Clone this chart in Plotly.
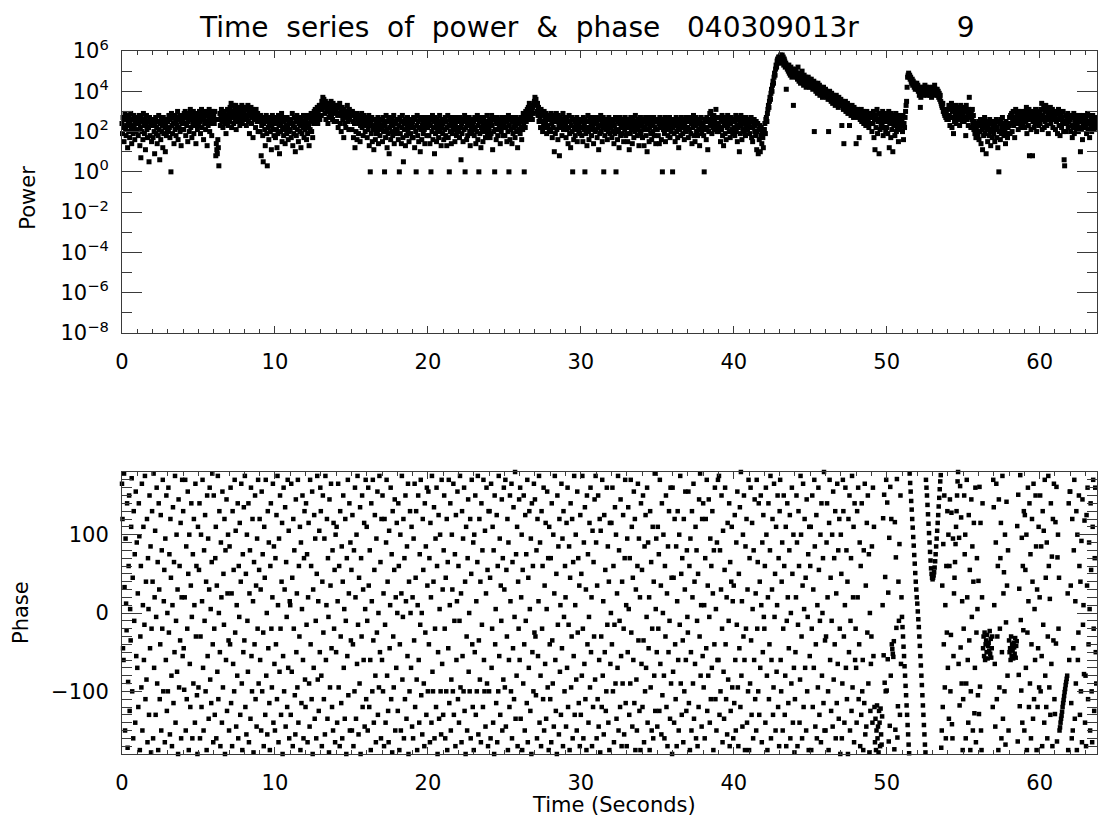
import plotly.graph_objects as go

# ---------------------------------------------------------------
# Data.  One row = one second,
# 30 samples per second.  Power in dB (10*log10 P), phase in degrees.
# ---------------------------------------------------------------
POWER_STEP = 1 / 30
PHASE_STEP = 1 / 30

power_db_00_16 = [
    [24,19,27,22,15,26,29,21,18,23,28,12,25,20,27,17,24,29,22,14,26,21,19,28,23,16,25,27,20,24],
    [21,26,18,24,28,13,22,7,27,20,25,16,29,23,19,26,11,24,28,21,17,25,22,5,27,18,23,26,15,24],
    [23,17,26,20,9,24,27,19,22,14,25,18,28,21,6,24,16,26,20,23,12,27,19,25,22,10,24,18,26,21],
    [25,20,28,22,17,26,0,29,23,19,27,24,14,28,21,25,18,27,23,30,16,26,22,28,20,25,13,27,24,21],
    [26,21,29,24,30,18,27,23,28,15,25,29,20,26,31,22,27,17,28,24,30,19,26,23,29,14,27,25,21,28],
    [27,23,30,25,19,28,31,22,26,29,16,27,24,30,21,28,25,13,29,23,27,31,20,26,28,24,18,30,25,27],
    [28,24,30,26,8,14,11,9,16,12,3,26,29,23,27,31,25,28,22,30,26,29,24,27,19,28,25,31,23,27],
    [29,25,32,28,34,22,30,27,33,24,29,31,26,33,21,28,30,25,32,27,29,23,31,28,26,33,24,30,28,32],
    [30,26,32,28,23,31,27,33,25,29,19,30,28,32,24,27,31,17,29,26,30,28,22,31,27,25,29,20,28,26],
    [25,20,28,8,23,26,18,5,24,27,21,13,25,28,19,3,26,22,16,24,27,20,25,11,23,28,21,24,18,26],
    [24,17,27,21,12,25,19,28,23,9,26,20,24,29,15,22,27,18,25,21,14,26,23,19,27,22,16,25,20,24],
    [21,26,17,24,29,13,23,19,27,22,10,25,18,28,21,26,15,24,27,20,23,12,26,19,25,22,28,17,24,21],
    [22,26,16,24,19,28,23,13,27,21,25,29,20,26,17,28,24,30,26,31,25,29,27,32,24,30,28,33,26,31],
    [33,28,35,31,37,34,36,32,29,35,26,33,30,34,24,32,27,33,29,31,35,28,32,26,34,30,25,33,29,31],
    [31,25,33,28,22,32,29,34,24,30,20,28,32,26,29,17,31,24,28,22,30,27,33,25,29,21,31,26,28,30],
    [28,21,30,25,17,29,24,12,27,20,29,16,26,28,19,24,27,15,23,26,29,22,25,18,28,24,26,20,27,23],
]
power_db_16_32 = [
    [24,17,26,21,28,13,23,0,25,19,27,15,23,21,11,26,22,16,25,19,24,20,27,14,22,25,18,26,21,23],
    [22,15,27,20,25,0,23,17,28,21,12,25,19,26,9,22,27,16,24,20,26,18,23,28,14,25,21,24,19,26],
    [21,26,16,23,0,27,19,25,14,22,28,17,5,24,21,26,13,25,18,22,27,20,24,15,26,22,19,25,23,17],
    [25,17,27,22,12,26,20,0,23,28,18,25,15,22,27,10,21,26,16,23,24,19,27,21,14,25,22,26,18,24],
    [22,27,18,25,14,23,0,26,20,28,16,22,25,9,27,19,24,15,26,21,23,17,25,28,20,24,13,26,22,19],
    [24,16,26,21,27,18,25,13,22,28,17,23,0,26,20,25,14,27,19,22,24,21,26,15,23,27,18,25,20,22],
    [20,25,17,27,22,6,24,19,26,15,25,21,28,0,22,26,16,24,18,25,23,27,20,13,25,22,19,26,21,24],
    [25,18,27,22,14,26,20,28,16,23,0,25,19,27,12,22,26,21,15,24,27,20,23,17,25,22,28,19,24,21],
    [22,26,17,25,19,28,23,11,26,20,27,0,21,25,16,24,27,18,25,21,23,26,14,24,20,27,22,18,25,23],
    [24,18,27,22,26,15,25,20,28,0,23,16,26,21,27,14,25,19,26,22,24,17,27,23,20,25,12,26,21,24],
    [25,19,27,22,16,26,21,29,24,0,27,22,30,25,28,31,26,32,29,34,27,31,28,33,30,26,32,29,34,35],
    [37,35,36,33,30,34,28,32,25,30,27,22,31,25,29,20,28,24,30,22,27,25,29,19,26,28,23,27,21,26],
    [27,20,29,24,17,28,22,26,10,27,19,25,29,21,26,16,28,23,8,25,27,22,24,18,26,29,21,25,23,27],
    [24,17,27,21,25,14,22,28,19,25,12,23,27,20,0,26,16,22,25,18,24,21,27,15,23,26,20,24,19,22],
    [22,26,18,25,15,27,21,23,0,26,19,25,13,22,28,20,16,25,22,27,24,18,26,21,23,14,25,27,20,24],
    [21,25,17,27,22,11,26,19,23,28,20,25,15,22,27,0,24,18,26,21,23,26,16,24,20,27,22,19,25,23],
]
power_db_32_48 = [
    [22,17,26,20,25,14,23,19,27,0,21,26,16,25,20,12,24,27,18,22,25,19,23,26,15,24,21,27,18,23],
    [19,25,15,26,22,11,24,19,27,21,25,14,22,26,17,24,20,28,21,25,23,18,26,22,13,24,20,27,19,25],
    [23,17,26,21,13,25,22,27,18,24,10,26,21,25,15,22,27,19,24,16,25,20,23,27,18,25,22,14,26,21],
    [21,26,18,24,14,27,22,25,16,23,0,26,21,25,19,27,15,23,21,26,24,18,25,22,27,17,24,20,26,23],
    [0,22,26,19,25,15,23,27,20,25,17,22,12,26,21,24,18,27,22,25,19,23,26,16,24,21,27,20,25,22],
    [22,17,26,21,25,27,19,24,14,26,22,28,18,25,15,23,27,20,25,18,24,21,26,13,25,22,27,19,24,21],
    [23,18,0,26,21,25,16,27,22,11,25,20,26,29,23,30,24,19,27,22,25,28,21,26,23,31,24,20,27,22],
    [24,20,27,22,15,26,21,28,18,25,13,23,27,19,26,16,24,22,28,23,25,20,26,17,24,27,21,25,19,26],
    [22,26,18,25,28,20,23,15,27,22,26,10,24,19,28,23,16,26,21,27,24,20,25,18,27,22,26,21,24,23],
    [23,19,26,22,27,17,25,15,22,24,26,20,23,18,25,11,20,24,9,21,16,23,10,18,22,14,20,17,12,21],
    [21,24,19,26,27,25,29,31,33,32,35,37,36,39,41,40,43,45,44,47,49,48,51,53,52,55,56,54,57,55],
    [57,55,58,56,54,58,56,57,53,56,55,52,54,41,53,51,52,50,53,49,51,48,52,50,47,51,49,33,48,50],
    [50,48,51,47,49,46,52,48,45,49,47,44,48,46,50,45,47,43,48,46,44,47,42,46,45,43,47,44,46,42],
    [45,43,46,42,44,41,43,45,20,42,44,40,43,41,39,44,42,40,43,38,41,42,39,41,37,40,42,38,40,39],
    [41,39,40,37,39,36,20,38,40,36,38,35,39,37,34,38,36,35,37,33,36,38,34,36,35,32,37,34,35,33],
    [36,34,23,35,33,31,14,34,32,35,30,33,31,34,29,32,33,23,30,32,28,31,33,29,31,27,32,30,28,31],
]
power_db_48_64 = [
    [14,30,28,31,27,29,17,30,26,28,31,25,29,27,30,24,28,26,29,23,27,30,25,28,26,22,29,27,24,28],
    [27,20,29,24,30,17,26,11,28,22,26,31,19,25,29,9,26,21,28,23,27,24,30,18,26,22,29,25,20,27],
    [22,28,19,25,30,12,24,27,17,29,21,25,10,28,23,26,18,24,29,20,27,22,26,15,28,24,21,27,25,23],
    [25,20,28,16,24,22,27,30,33,35,42,47,48,49,47,48,46,47,45,44,46,43,45,44,42,44,41,43,42,44],
    [41,43,40,42,38,41,32,37,40,42,39,41,38,42,40,43,39,41,42,38,40,41,39,42,40,38,41,39,37,40],
    [40,42,39,41,43,38,41,40,39,41,38,40,37,39,36,38,35,34,33,32,34,30,31,29,28,30,27,29,26,28],
    [31,26,33,28,23,32,27,34,22,30,27,19,32,25,29,33,24,30,27,32,28,26,31,23,29,33,27,30,25,31],
    [29,32,25,31,27,18,33,26,30,28,23,31,37,27,30,22,29,26,31,24,28,21,25,19,23,17,22,20,24,18],
    [23,16,25,20,26,14,23,21,11,25,18,22,27,19,23,9,21,25,15,22,24,18,26,20,13,24,21,17,23,20],
    [19,25,15,23,21,26,17,22,12,25,0,20,24,16,26,19,22,27,20,24,18,23,21,14,25,19,23,17,22,24],
    [23,27,19,28,24,29,20,25,30,23,27,17,26,31,24,29,25,28,21,30,26,24,28,22,27,30,25,29,23,27],
    [28,22,30,25,32,19,27,29,23,31,8,26,29,21,27,30,8,25,29,22,28,24,31,26,20,28,25,30,23,27],
    [29,24,31,26,34,21,28,27,32,22,30,25,33,27,23,31,28,19,30,26,29,32,24,28,26,31,22,29,27,30],
    [28,21,30,25,29,19,26,31,23,28,18,26,29,22,27,24,30,20,6,3,25,28,20,27,24,29,22,26,25,28],
    [26,20,28,23,17,27,22,29,19,25,24,28,21,26,23,27,20,25,28,22,10,26,21,27,16,24,28,22,25,23],
    [22,27,19,25,29,21,24,28,17,25,22,27,20,24,28,23,26,21,25,27,22,24],
]

phase_00_16 = [
    [165,120,-45,-60,178,33,-150,95,12,-22,140,-172,-88,60,150,-125,5,-35,110,172,-100,45,-160,130,-10,75,-140,155,-55,90],
    [-70,25,-120,140,98,-175,-30,60,-95,165,-150,10,110,-60,-15,175,-110,40,-85,120,-165,70,5,-130,150,-45,85,-178,-20,130],
    [40,-160,178,-70,20,105,-130,-5,160,-90,65,-175,140,30,-110,-40,125,-150,80,-20,170,-100,15,55,-165,95,-60,150,-125,0],
    [-100,160,-25,75,-155,120,45,-80,-170,10,135,-115,65,-50,175,-140,-10,100,-75,30,-180,145,-95,60,-35,115,-160,20,170,-55],
    [130,-45,-98,20,170,-150,85,-110,-20,155,50,-175,100,-65,-120,35,140,-5,-160,75,-90,120,10,-140,165,-30,60,-105,-180,110],
    [-95,55,140,-160,-30,100,-120,15,170,-70,-150,80,-10,125,-100,40,-175,150,-55,95,-135,30,160,-85,5,-115,65,178,-40,-165],
    [150,-20,-130,70,110,-160,35,-75,175,-110,0,130,-50,-170,90,20,-140,155,-95,50,-15,120,-180,80,-60,145,-125,25,100,-35],
    [-150,85,-40,160,-115,25,-170,130,-65,55,-100,170,-25,105,-145,10,-80,140,-160,60,-5,115,-130,40,165,-90,-175,75,-50,135],
    [-35,175,-120,50,-155,100,-10,-75,140,-165,25,80,-135,160,-55,-100,120,15,-178,65,-40,150,-110,35,-145,95,-20,170,-90,55],
    [120,-60,30,-150,155,-100,75,-25,-170,110,45,-130,170,-80,0,-155,130,-45,90,-115,-175,60,140,-20,-95,20,165,-140,85,-65],
    [-150,70,-40,125,-110,175,10,-165,95,-75,150,-20,-130,40,115,-180,-55,160,-100,30,135,-145,65,-5,-120,170,-70,105,-160,15],
    [10,-130,165,-75,45,-170,120,-20,80,-105,-155,145,-50,25,-95,170,-140,60,-30,110,-175,90,-115,5,150,-60,-160,70,130,-85],
    [-120,140,-15,75,-165,20,115,-90,-145,170,-40,60,-110,155,-180,30,-70,125,-135,95,-10,-160,50,175,-85,15,-125,105,-50,160],
    [130,-80,-170,40,150,-25,-110,95,-155,175,-60,10,120,-135,70,-5,-178,145,-95,35,165,-45,-120,80,-150,115,-20,55,-165,100],
    [-50,110,-140,15,165,-95,60,-170,130,-30,-115,85,-160,40,150,-70,5,-135,120,-10,-180,70,-55,170,-105,25,140,-150,90,-35],
    [55,-150,125,-40,-170,80,-100,160,20,-135,100,-65,175,-15,-155,45,-90,135,-180,70,-30,150,-120,30,-60,115,-145,5,170,-110],
]
phase_16_32 = [
    [110,-10,-150,160,35,-120,80,-60,-175,140,15,-100,170,-35,-140,55,125,-80,-165,95,-25,155,-130,0,-95,175,-50,65,-160,120],
    [-60,150,-100,25,-170,120,-15,-140,90,170,-80,40,-125,-165,105,-45,10,160,-110,75,-178,130,-30,-95,55,145,-150,20,-70,115],
    [0,-125,140,60,-175,-40,100,-150,25,175,-85,-5,120,-160,70,-110,150,15,-135,85,-55,165,-180,40,-100,130,0,-70,110,-145],
    [20,-160,95,-35,165,-120,45,130,-85,-175,10,150,-60,-140,75,-15,170,-105,0,-155,120,55,-90,-170,140,-25,85,-130,160,35],
    [-100,155,-40,70,-165,115,20,-140,175,-75,-100,40,135,-160,-20,95,-120,160,60,-180,-50,125,-135,5,100,-100,-155,170,-65,30],
    [-130,80,150,-20,-160,45,-100,120,-175,65,-45,170,-115,10,140,-150,-85,100,30,-100,165,-130,-10,75,-170,125,-60,15,155,-110],
    [60,-140,-10,175,-95,25,-165,130,-55,95,-100,160,-125,40,-180,110,-30,-150,70,145,-75,0,-100,120,-160,50,170,-40,-120,90],
    [-175,100,-50,150,-130,15,-100,65,175,-155,-35,120,-85,40,-165,140,-15,80,-120,170,-60,-100,105,-145,25,160,-90,55,-170,130],
    [-100,130,45,-160,165,-70,-20,110,-140,80,-180,150,-40,5,-115,125,-165,60,-100,175,-55,95,-130,35,-10,145,-150,70,-85,160],
    [30,-95,170,-145,55,-30,120,-175,90,-60,-120,150,15,-100,165,-160,65,-45,135,-110,-5,180,-135,75,-80,110,-170,40,-20,145],
    [-60,160,-135,20,100,-175,55,-90,150,-40,-150,125,-10,75,-115,170,-165,45,-70,130,5,-125,95,-180,140,-50,60,-100,165,-25],
    [145,-30,-105,80,-160,120,-55,15,175,-140,90,-80,-170,130,-20,60,-110,160,-150,35,-65,115,-135,5,155,-95,70,-175,110,-40],
    [-110,70,-165,140,-35,-90,100,-145,25,175,-60,-125,50,-180,150,-15,85,-155,120,-75,10,-130,165,-45,95,-170,130,-5,-100,60],
    [20,-145,115,-70,160,-120,-15,85,-175,45,140,-95,-30,120,-160,65,-55,175,-130,10,100,-85,-150,155,-25,70,-115,35,-170,125],
    [-130,50,-80,175,-20,-160,90,-65,135,-110,30,-175,150,-40,75,-140,-5,115,-95,160,-50,20,-170,105,-120,65,-30,145,-85,175],
    [90,-160,35,-110,150,-145,-60,120,-178,105,-30,-120,170,-80,15,-155,125,-50,55,-125,-100,160,-15,85,-140,40,-175,115,-65,0],
]
phase_32_48 = [
    [115,-40,160,-100,60,-165,-15,135,-90,100,-135,25,-70,175,-150,80,-10,-120,145,-55,-170,40,-90,125,-20,-155,70,170,-115,10],
    [-170,95,-50,135,5,-130,70,-90,170,-25,110,-145,45,-60,155,-115,120,-175,30,-85,-150,60,165,-35,95,-125,20,-175,140,-65],
    [55,-120,150,-35,-165,85,-100,125,-70,-5,160,-140,90,-45,20,-175,130,-95,65,-150,-20,110,-160,40,-80,178,-125,5,95,-50],
    [-145,110,-20,75,-125,170,-65,35,-155,140,-105,0,100,-80,-160,60,-30,150,-120,25,-170,85,-50,130,-10,-135,160,-90,45,-180],
    [160,-75,45,-140,120,-40,-110,85,-170,15,130,-60,-150,100,-15,175,-90,50,-130,70,-35,-165,120,-100,30,155,-60,-125,80,-5],
    [-25,155,-115,60,-175,95,-50,-150,130,20,-90,165,-135,40,-65,110,-160,80,-10,-170,50,-120,145,-30,178,-80,10,-145,120,-55],
    [140,-95,10,-160,70,120,-45,170,-125,35,-80,145,-5,-140,95,-110,60,-70,130,25,-175,80,-40,160,-110,5,-150,90,-60,170],
    [-60,175,-130,80,-100,30,150,-20,-165,105,-75,-135,55,160,-40,-110,20,-155,115,-85,-10,140,-170,65,-125,40,110,-95,15,-160],
    [35,-115,125,-60,-150,90,-15,155,-95,-170,50,-45,135,-120,180,-80,15,-145,100,-30,150,-60,-175,85,-20,120,-140,30,-100,170],
    [-175,70,-90,160,-35,-130,115,5,-160,80,-60,145,-110,25,-150,170,-20,65,-100,140,-130,40,-70,150,10,-165,90,-50,125,-5],
    [-20,60,-140,160,100,-80,-175,20,140,-110,-40,80,175,-160,-60,30,120,-130,-95,165,-5,50,-150,110,-75,10,150,-120,70,-170],
    [130,170,-60,-100,40,90,-150,-20,150,60,-130,-80,110,-170,-10,140,20,-115,-45,80,125,-160,0,-90,160,50,-140,100,-70,-178],
    [-110,-50,20,150,90,-170,-15,130,60,-140,-85,175,100,-30,-160,35,165,-120,5,120,-70,45,-150,145,-100,-5,75,-175,110,-55],
    [60,110,-175,-20,150,-120,30,-70,170,85,-145,-40,125,-160,10,-95,160,55,-130,-10,100,-165,140,-80,0,70,-115,180,-150,-35],
    [-150,-30,90,140,20,-100,-175,115,170,-60,45,-125,-10,100,-145,155,-85,70,-40,130,-160,25,-115,165,-65,80,-135,120,-20,-180],
    [100,50,-160,-90,170,130,-30,-140,10,160,-70,80,-110,40,-180,120,-50,150,-150,-10,70,-125,175,-95,20,110,-165,140,-60,-20],
]
phase_48_64 = [
    [-70,-140,130,20,160,-110,-40,90,-170,60,-130,140,-100,-60,-175,80,-115,165,-155,35,-145,115,-25,150,-90,75,-178,0,-125,-65],
    [-30,85,-140,160,-55,110,-120,-165,-135,-175,-150,-118,-160,-145,-178,-125,-140,-170,-122,-155,-168,-132,10,121,-54,151,-89,46,-100,170],
    [-99,141,-59,26,-164,96,-144,161,-80,120,-40,-46,-52,-56,-36,-174,116,-149,71,-19,171,-159,-119,40,-10,88,-130,150,-65,20],
    [-5,-18,-30,-43,-55,-68,-80,-93,-105,-118,-130,-143,-155,-168,-179,178,166,155,143,132,120,109,97,86,74,63,51,40,30,20],
    [12,2,-8,-18,-30,-42,-55,-67,-80,-92,-105,-118,-130,-143,-155,-168,-178,170,160,150,138,126,114,102,90,78,67,57,50,45],
    [43,45,48,52,58,66,75,85,95,105,115,125,136,147,158,168,176,-172,-150,35,-120,88,-40,150,-95,10,-160,60,-25,130],
    [-70,100,-135,60,145,-100,-28,128,-142,-160,95,-55,25,45,65,88,110,130,150,168,180,-65,96,-118,162,-44,122,-90,15,-175],
    [-110,-20,150,75,100,-160,-90,170,20,-60,-140,125,-35,55,-175,-100,145,-5,85,-150,40,115,-128,-70,160,-165,-25,70,5,-105],
    [41,-129,161,-94,115,-150,-175,20,140,-45,-30,-55,-25,-60,-40,-35,-50,-28,-58,-42,-38,-48,-23,-52,-33,-57,-45,-30,-120,170],
    [135,10,-65,-145,90,165,-110,-30,60,-175,145,-95,-20,70,115,-160,-50,175,-135,25,52,-100,100,-168,-12,142,35,-80,80,-150],
    [-35,-50,-45,-60,-30,-55,-40,-48,-58,-38,-44,-52,-32,-57,-42,-36,111,-164,151,-79,31,-119,176,-9,-99,96,-140,60,-22,130],
    [-150,125,55,-70,100,-175,-25,160,15,-120,140,-90,75,-160,-40,120,40,-135,165,-110,5,-60,150,85,-175,30,-120,-45,110,-95],
    [20,150,-100,85,-55,-170,130,-15,105,-140,170,-80,45,-120,90,-160,-30,175,60,-95,18,-130,140,-65,72,-170,120,-35,165,-110],
    [-129,116,-39,161,-164,71,100,-20,45,-150,-146,-140,-135,-131,-126,-120,-115,-111,-106,-101,-97,-92,-88,-84,-80,25,-175,140,-60,155],
    [155,35,-115,-160,120,-150,-45,80,170,-135,15,-90,130,-175,100,-60,-25,150,60,-130,40,-100,92,-165,145,-15,10,-78,118,-140],
    [-80,-170,125,35,160,-110,-40,90,5,-150,140,55,-100,-165,110,170,-20,-125,70,160,-50,-90],
]

power_tickvals = [1e-8, 1e-6, 1e-4, 1e-2, 1e0, 1e2, 1e4, 1e6]
power_ticktext = ["10<sup>\u22128</sup>", "10<sup>\u22126</sup>", "10<sup>\u22124</sup>",
                  "10<sup>\u22122</sup>", "10<sup>0</sup>", "10<sup>2</sup>",
                  "10<sup>4</sup>", "10<sup>6</sup>"]
power_minor_tickvals = [1e-7, 1e-5, 1e-3, 1e-1, 1e1, 1e3, 1e5]
phase_tickvals = [-100, 0, 100]

TITLE = ("Time\u00a0\u00a0series\u00a0\u00a0of\u00a0\u00a0power\u00a0\u00a0&\u00a0\u00a0phase"
         "\u00a0\u00a0\u00a0040309013r" + "\u00a0" * 11 + "9")


def flatten(blocks, step):
    t, v = [], []
    sec = 0
    for block in blocks:
        for row in block:
            for i, val in enumerate(row):
                t.append(sec + i * step)
                v.append(val)
            sec += 1
    return t, v


t_pow, p_db = flatten([power_db_00_16, power_db_16_32, power_db_32_48, power_db_48_64], POWER_STEP)
power = [10 ** (d / 10.0) for d in p_db]
t_ph, phase = flatten([phase_00_16, phase_16_32, phase_32_48, phase_48_64], PHASE_STEP)

FONT = "DejaVu Sans"
AX = "#3a3a3a"

fig = go.Figure()
fig.add_trace(go.Scatter(x=t_pow, y=power, mode="markers", xaxis="x", yaxis="y",
                         marker=dict(symbol="square", size=5, color="black", line=dict(width=0)),
                         cliponaxis=False, showlegend=False))
fig.add_trace(go.Scatter(x=t_ph, y=phase, mode="markers", xaxis="x2", yaxis="y2",
                         marker=dict(symbol="square", size=4.5, color="black", line=dict(width=0)),
                         cliponaxis=False, showlegend=False))

W, H = 1098, 827
ml, mr, mt, mb = 122, 1, 51, 73
ph = H - mt - mb
top_dom = [(754 - 333) / ph, 1.0]
bot_dom = [0.0, (754 - 472) / ph]

xcommon = dict(range=[0, 63.75], tick0=0, dtick=10, ticks="inside", ticklen=7, tickwidth=1,
               tickcolor=AX, showline=True, linecolor=AX, linewidth=1, mirror="allticks",
               showgrid=False, zeroline=False, ticklabelstandoff=10,
               tickfont=dict(family=FONT, size=21, color="black"),
               minor=dict(dtick=1, tick0=0, ticks="inside", ticklen=4, tickwidth=1,
                          tickcolor=AX, showgrid=False))

fig.update_layout(
    width=W, height=H, plot_bgcolor="white", paper_bgcolor="white",
    margin=dict(l=ml, r=mr, t=mt, b=mb),
    font=dict(family=FONT, color="black"),
    title=dict(text=TITLE, font=dict(family=FONT, size=28, color="black"),
               xref="container", x=200 / W, xanchor="left",
               yref="container", y=1 - 27 / H, yanchor="middle"),
    xaxis=dict(domain=[0, 1], anchor="y", **xcommon),
    xaxis2=dict(domain=[0, 1], anchor="y2", **xcommon),
    yaxis=dict(domain=top_dom, anchor="x", type="log", range=[-8, 6],
               tickmode="array", tickvals=power_tickvals, ticktext=power_ticktext,
               ticks="inside", ticklen=20, tickwidth=1, tickcolor=AX,
               showline=True, linecolor=AX, linewidth=1, mirror="allticks",
               showgrid=False, zeroline=False, ticklabelstandoff=8,
               tickfont=dict(family=FONT, size=21, color="black"),
               minor=dict(tickmode="array", tickvals=power_minor_tickvals, ticks="inside",
                          ticklen=10, tickwidth=1, tickcolor=AX, showgrid=False)),
    yaxis2=dict(domain=bot_dom, anchor="x2", range=[-180, 180],
                tickmode="array", tickvals=phase_tickvals,
                ticks="inside", ticklen=20, tickwidth=1, tickcolor=AX,
                showline=True, linecolor=AX, linewidth=1, mirror="allticks",
                showgrid=False, zeroline=False, ticklabelstandoff=8,
                tickfont=dict(family=FONT, size=21, color="black"),
                minor=dict(tick0=0, dtick=10, ticks="inside", ticklen=10, tickwidth=1,
                           tickcolor=AX, showgrid=False)),
    annotations=[
        dict(text="Power", textangle=-90, xref="x domain", yref="y domain",
             x=(28 - ml) / 975, y=0.48, xanchor="center", yanchor="middle",
             showarrow=False, font=dict(family=FONT, size=21, color="black")),
        dict(text="Phase", textangle=-90, xref="x2 domain", yref="y2 domain",
             x=(21 - ml) / 975, y=0.5, xanchor="center", yanchor="middle",
             showarrow=False, font=dict(family=FONT, size=21, color="black")),
        dict(text="Time (Seconds)", xref="x2 domain", yref="y2 domain",
             x=0.505, y=(754 - 805) / 282, xanchor="center", yanchor="middle",
             showarrow=False, font=dict(family=FONT, size=21, color="black")),
    ],
)

fig.write_html("out.html")
